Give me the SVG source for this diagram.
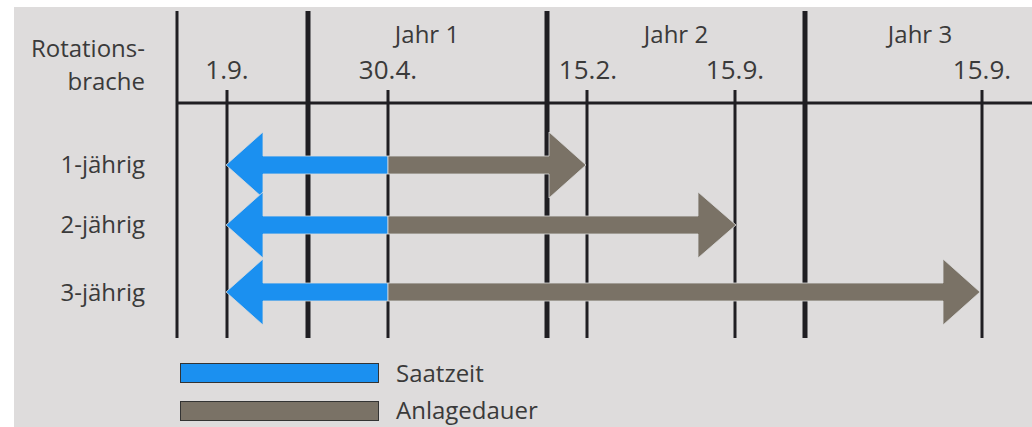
<svg xmlns="http://www.w3.org/2000/svg" width="1032" height="427" viewBox="0 0 1032 427">
  <style>
    text { font-family: "Open Sans", "Liberation Sans", sans-serif; fill: #3a3a3a; font-size: 24px; }
    .date { font-size: 26px; text-anchor: middle; }
    .year { text-anchor: middle; }
    .rowlbl { text-anchor: end; }
    .grid { stroke: #1f1e22; fill: none; }
    .yr { stroke-width: 5; }
    .tick { stroke-width: 3; }
    .sow { fill: #1b90f0; stroke: #dcdcdc; stroke-width: 0.8; }
    .dur { fill: #7a7266; stroke: #dcdcdc; stroke-width: 0.8; }
    .key { stroke: #333; stroke-width: 1; }
  </style>

  <!-- page and panel background -->
  <rect x="0" y="0" width="1032" height="427" fill="#ffffff"/>
  <rect x="14" y="7" width="1018" height="420" fill="#dedcdc"/>

  <!-- time axis grid -->
  <g id="grid" class="grid">
    <line x1="177" y1="11" x2="177" y2="338" class="tick"/>
    <line x1="308" y1="11" x2="308" y2="338" class="yr"/>
    <line x1="547" y1="11" x2="547" y2="338" class="yr"/>
    <line x1="805" y1="11" x2="805" y2="338" class="yr"/>
    <line x1="227" y1="90" x2="227" y2="338" class="tick"/>
    <line x1="388" y1="90" x2="388" y2="338" class="tick"/>
    <line x1="587" y1="90" x2="587" y2="338" class="tick"/>
    <line x1="735" y1="90" x2="735" y2="338" class="tick"/>
    <line x1="982" y1="90" x2="982" y2="338" class="tick"/>
    <line x1="177" y1="103" x2="1032" y2="103" class="tick"/>
  </g>

  <!-- header labels -->
  <g id="header">
    <text x="145" y="57" class="rowlbl">Rotations-</text>
    <text x="145" y="90" class="rowlbl">brache</text>
    <text x="427" y="43" class="year">Jahr 1</text>
    <text x="676" y="43" class="year">Jahr 2</text>
    <text x="920" y="43" class="year">Jahr 3</text>
    <text x="227" y="79" class="date">1.9.</text>
    <text x="388" y="79" class="date">30.4.</text>
    <text x="588" y="79" class="date">15.2.</text>
    <text x="735" y="79" class="date">15.9.</text>
    <text x="982" y="79" class="date">15.9.</text>
  </g>

  <!-- one row per fallow duration -->
  <g id="row-1">
    <text x="145" y="173" class="rowlbl">1-jährig</text>
  </g>
  <g id="row-2">
    <text x="145" y="233" class="rowlbl">2-jährig</text>
  </g>
  <g id="row-3">
    <text x="145" y="301" class="rowlbl">3-jährig</text>
  </g>

  <!-- sowing window (left) and duration (right) arrows -->
  <g id="connectors">
    <polygon class="sow" points="226,165 263,132 263,156 388,156 388,174 263,174 263,198"/>
    <polygon class="dur" points="388,156 549,156 549,132 586,165 549,198 549,174 388,174"/>

    <polygon class="sow" points="226,225 263,192 263,216 388,216 388,234 263,234 263,258"/>
    <polygon class="dur" points="388,216 698,216 698,192 736,225 698,258 698,234 388,234"/>

    <polygon class="sow" points="226,292 263,259 263,283 388,283 388,301 263,301 263,325"/>
    <polygon class="dur" points="388,283 943,283 943,259 980,292 943,325 943,301 388,301"/>
  </g>

  <!-- legend -->
  <g id="legend">
    <rect x="180.5" y="363.5" width="198" height="19" fill="#1b90f0" class="key"/>
    <text x="396" y="382">Saatzeit</text>
    <rect x="180.5" y="401.5" width="198" height="19" fill="#7a7266" class="key"/>
    <text x="396" y="419">Anlagedauer</text>
  </g>
</svg>
